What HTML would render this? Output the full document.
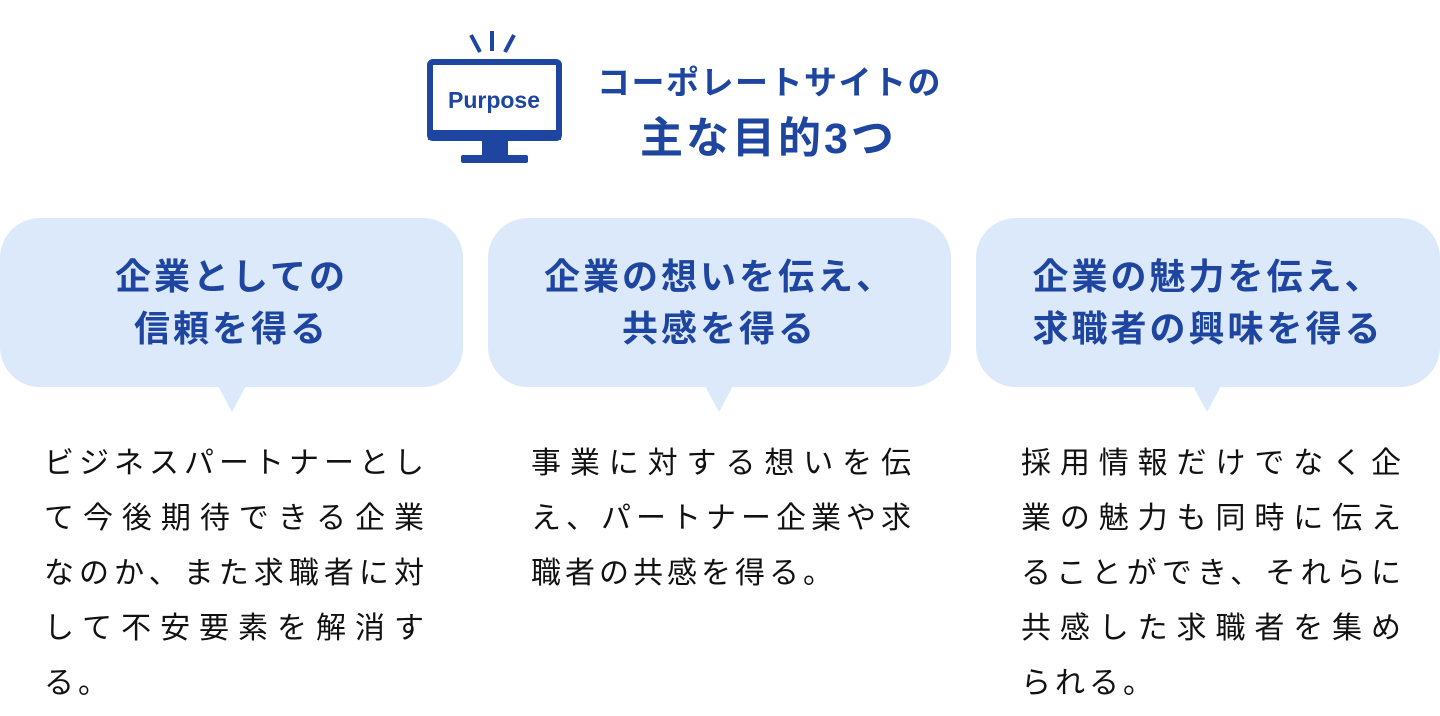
<!DOCTYPE html>
<html><head><meta charset="utf-8"><style>
body{margin:0;width:1440px;height:716px;background:#fff;position:relative;overflow:hidden;font-family:"Liberation Sans","Noto Sans CJK JP",sans-serif}
.t1{position:absolute;left:597px;top:56px;font-size:33px;font-weight:bold;color:#1e45a0;white-space:nowrap;letter-spacing:1.5px}
.t2{position:absolute;left:640px;top:104px;font-size:43px;font-weight:bold;color:#1e45a0;white-space:nowrap;letter-spacing:3px}
.b{position:absolute;top:218px;height:169px;background:#dbe9fb;border-radius:40px;display:flex;align-items:center;justify-content:center;text-align:center;color:#1e45a0;font-weight:bold;font-size:36px;line-height:52px;letter-spacing:3px}
.tail{position:absolute;top:386px;width:0;height:0;border-left:14px solid transparent;border-right:14px solid transparent;border-top:26px solid #dbe9fb}
.p{position:absolute;top:436px;width:380px;font-size:30px;line-height:55px;color:#111;letter-spacing:4px}
.p div{text-align:justify;text-align-last:justify;white-space:nowrap;margin-right:-4px}
.p div.l{text-align-last:left}
</style></head><body>
<svg style="position:absolute;left:0;top:0" width="1440" height="200">
<g fill="#1e45a0" stroke="#1e45a0">
<rect x="430" y="62" width="129" height="76" rx="3" fill="none" stroke-width="6"/>
<rect x="428" y="130" width="133" height="10" stroke="none"/>
<rect x="482" y="138" width="26" height="18" stroke="none"/>
<rect x="461" y="155" width="67" height="8" rx="2" stroke="none"/>
<line x1="471" y1="35" x2="480" y2="52" stroke-width="4"/>
<line x1="492" y1="31" x2="492" y2="51" stroke-width="4"/>
<line x1="514" y1="35" x2="505" y2="52" stroke-width="4"/>
</g>
<text x="494" y="108" text-anchor="middle" font-family="Liberation Sans" font-weight="bold" font-size="23" fill="#1e45a0">Purpose</text>
</svg>
<div class="t1">コーポレートサイトの</div>
<div class="t2">主な目的3つ</div>

<div class="b" style="left:0;width:463px">企業としての<br>信頼を得る</div>
<div class="tail" style="left:218px"></div>
<div class="b" style="left:488px;width:463px">企業の想いを伝え、<br>共感を得る</div>
<div class="tail" style="left:705px"></div>
<div class="b" style="left:976px;width:464px">企業の魅力を伝え、<br>求職者の興味を得る</div>
<div class="tail" style="left:1193px"></div>

<div class="p" style="left:44px">
<div>ビジネスパートナーとし</div><div>て今後期待できる企業</div><div>なのか、また求職者に対</div><div>して不安要素を解消す</div><div class="l">る。</div></div>
<div class="p" style="left:531px">
<div>事業に対する想いを伝</div><div>え、パートナー企業や求</div><div class="l">職者の共感を得る。</div></div>
<div class="p" style="left:1021px">
<div>採用情報だけでなく企</div><div>業の魅力も同時に伝え</div><div>ることができ、それらに</div><div>共感した求職者を集め</div><div class="l">られる。</div></div>
</body></html>
